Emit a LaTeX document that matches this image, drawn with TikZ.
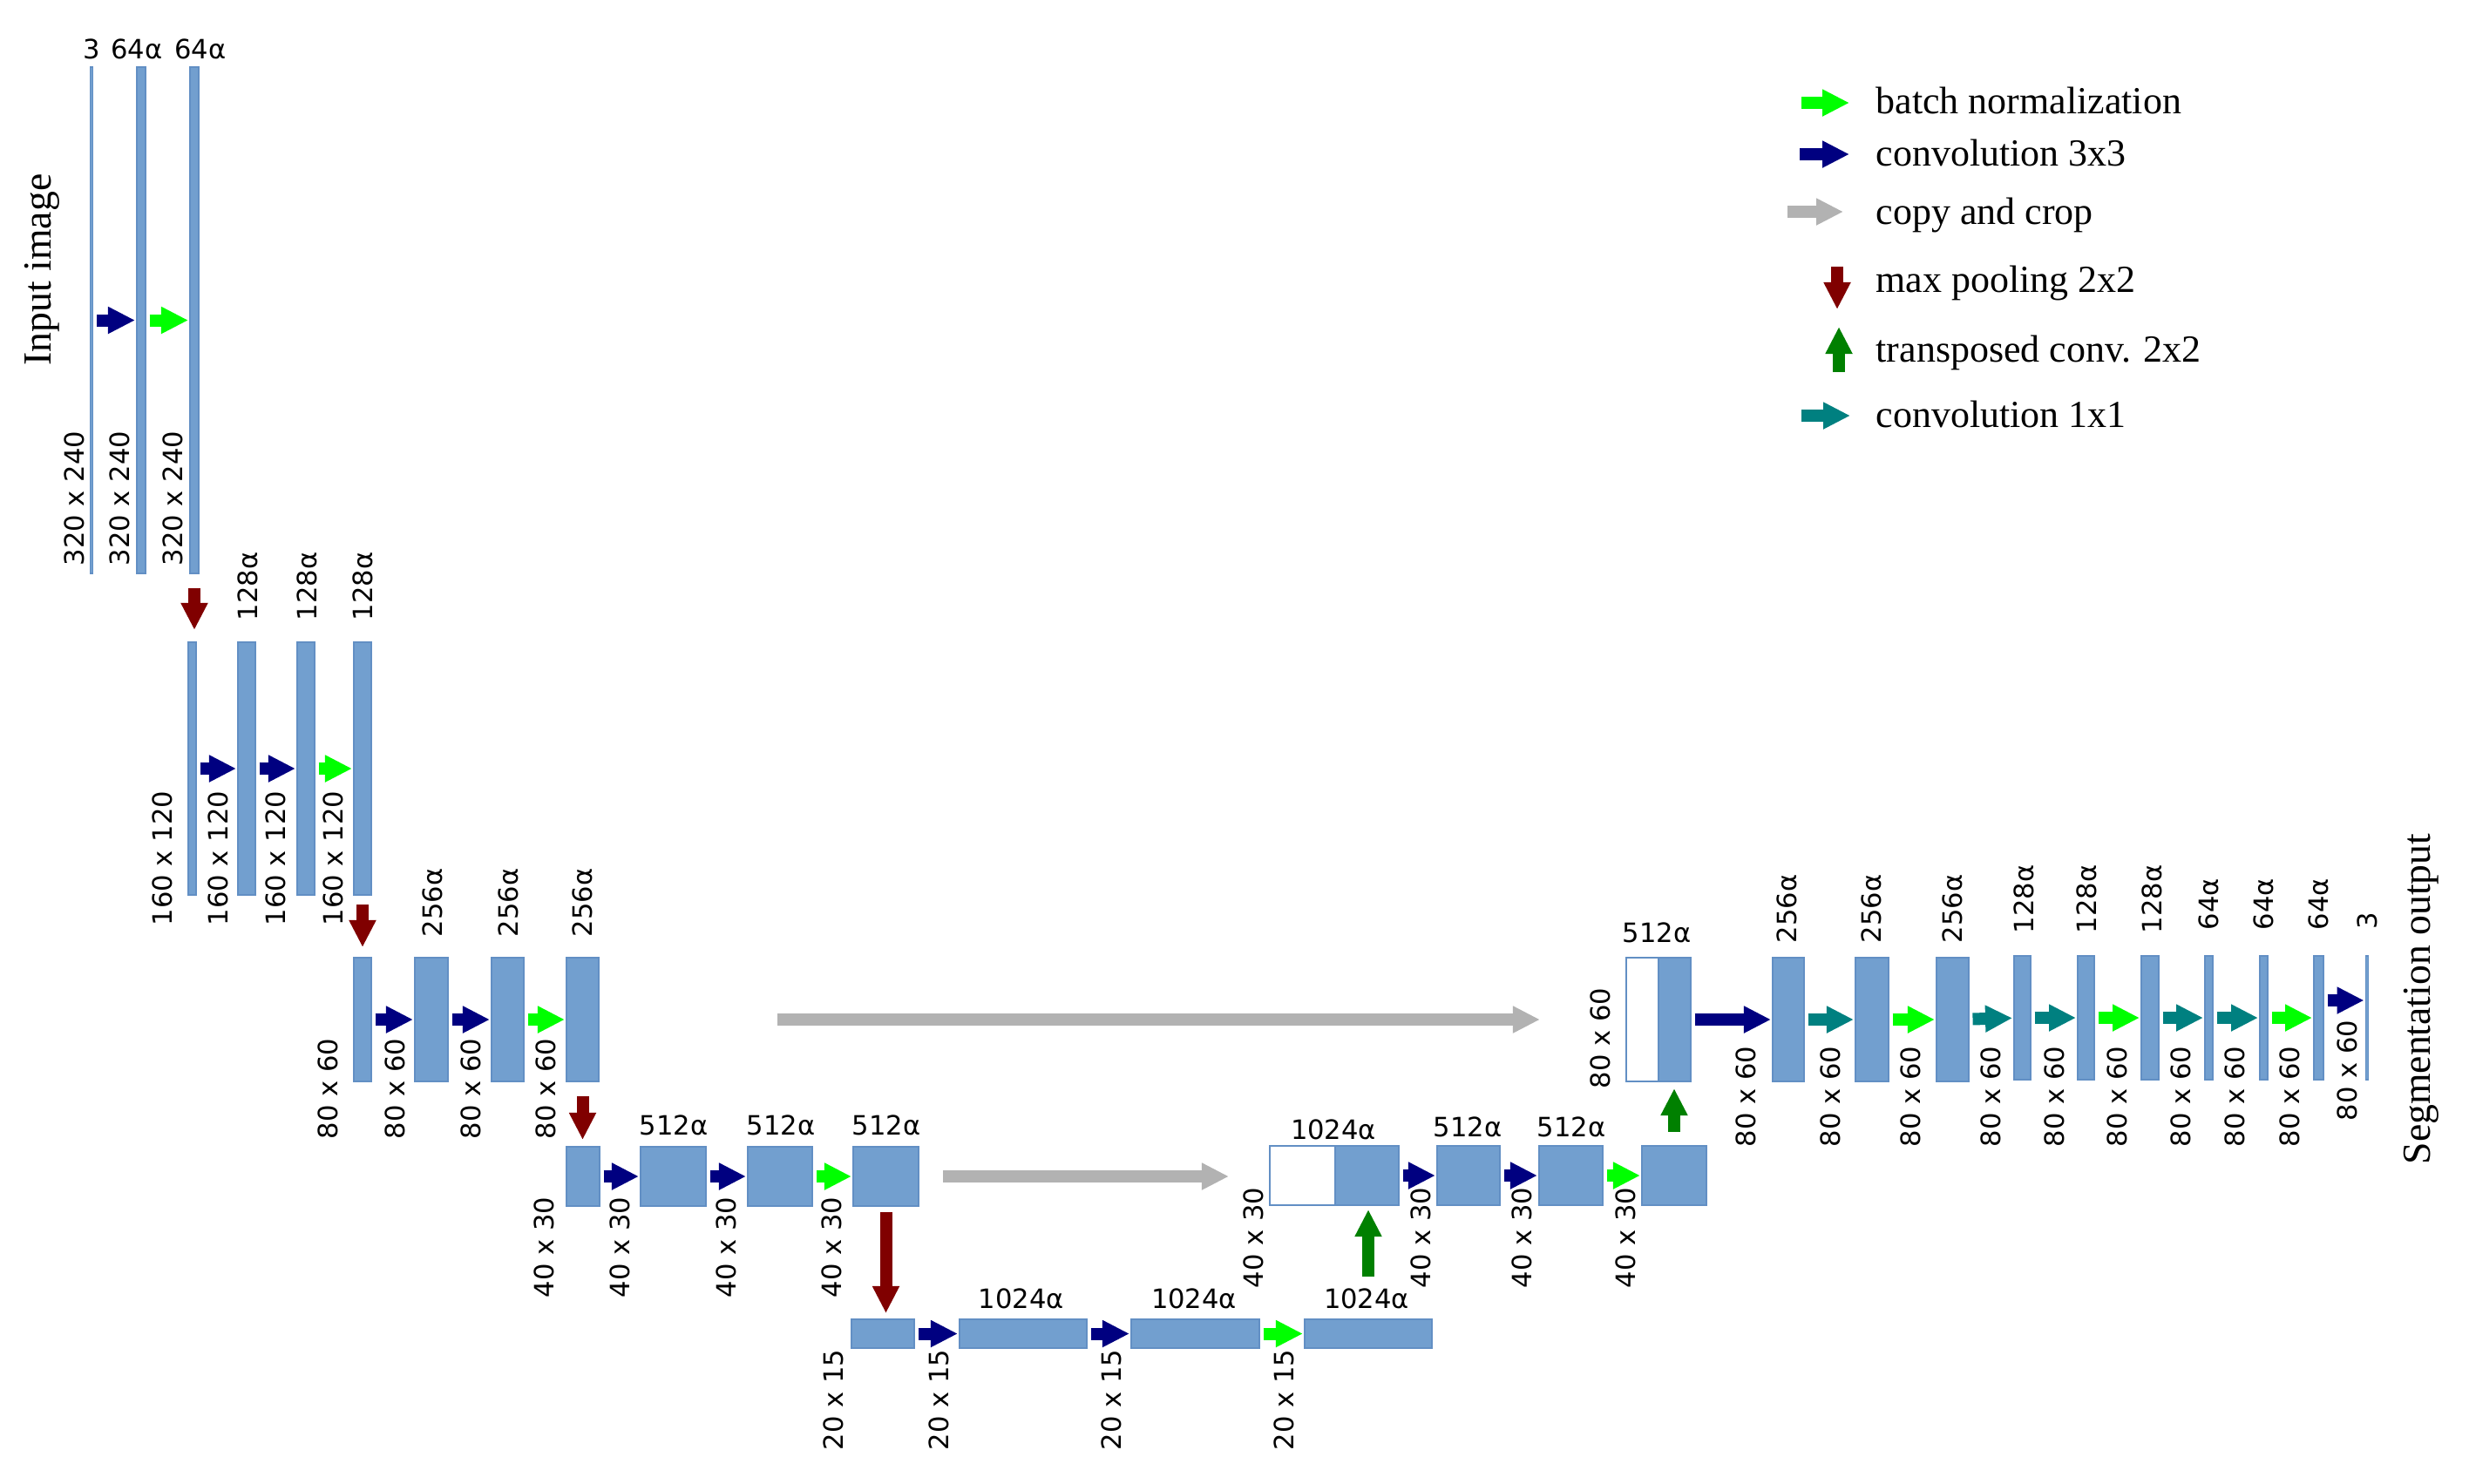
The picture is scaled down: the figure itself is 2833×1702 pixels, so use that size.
\documentclass[tikz,border=0pt]{standalone}
\usepackage{fontspec}
\setmainfont{Liberation Serif}
\newfontfamily\dimfont{DejaVu Sans}
\usetikzlibrary{arrows.meta}

\definecolor{barblue}{RGB}{114,159,207}
\definecolor{barline}{RGB}{98,143,196}
\definecolor{convblue}{RGB}{0,0,128}
\definecolor{bngreen}{RGB}{0,255,0}
\definecolor{copygray}{RGB}{178,178,178}
\definecolor{poolred}{RGB}{128,0,0}
\definecolor{upgreen}{RGB}{0,128,0}
\definecolor{convteal}{RGB}{0,128,128}

\begin{document}
\begin{tikzpicture}[
    x=0.01cm, y=-0.01cm,
    bar/.style={
        draw=barline,
        fill=barblue,
        line width=0.4pt,
        inner sep=0pt,
        outer sep=0pt
    },
    hole/.style={bar, fill=white},
    l1/.style={minimum height=5.81cm},
    l2/.style={minimum height=2.90cm},
    l3/.style={minimum height=1.42cm},
    l4/.style={minimum height=0.68cm},
    l5/.style={minimum height=0.33cm},
    arrow style/.style={
        line width=0.14cm,
        -{Triangle[length=0.31cm, width=0.29cm]}
    },
    tight/.style={shorten <=0.045cm, shorten >=0.02cm},
    conv/.style={arrow style, convblue},
    bn/.style={arrow style, bngreen},
    conv1/.style={arrow style, convteal},
    pool/.style={arrow style, poolred},
    upconv/.style={arrow style, upgreen},
    copyarrow/.style={arrow style, copygray},
    chan/.style={font=\dimfont\fontsize{8.7}{10}\selectfont, inner sep=0pt},
    chanup/.style={chan, rotate=90, anchor=west},
    dimlbl/.style={chanup},
    title/.style={font=\fontsize{13}{15}\selectfont, inner sep=0pt, rotate=90, anchor=base west},
    legend text/.style={font=\fontsize{12.5}{14}\selectfont, inner sep=0pt, anchor=base west}
]
\useasboundingbox (0,0) rectangle (2833,1702);

% Contracting path
\node[bar, l1, minimum width=0.03cm] (b10) at (105,367.5) {};
\node[bar, l1, minimum width=0.10cm] (b11) at (162,367.5) {};
\node[bar, l1, minimum width=0.10cm] (b12) at (223,367.5) {};

\node[bar, l2, minimum width=0.09cm] (b20) at (220.5,882) {};
\node[bar, l2, minimum width=0.20cm] (b21) at (283,882) {};
\node[bar, l2, minimum width=0.20cm] (b22) at (351,882) {};
\node[bar, l2, minimum width=0.20cm] (b23) at (416,882) {};

\node[bar, l3, minimum width=0.20cm] (b30) at (416,1170) {};
\node[bar, l3, minimum width=0.38cm] (b31) at (495,1170) {};
\node[bar, l3, minimum width=0.37cm] (b32) at (582.5,1170) {};
\node[bar, l3, minimum width=0.37cm] (b33) at (668.5,1170) {};

\node[bar, l4, minimum width=0.38cm] (b40) at (669,1350) {};
\node[bar, l4, minimum width=0.75cm] (b41) at (772.5,1350) {};
\node[bar, l4, minimum width=0.74cm] (b42) at (895,1350) {};
\node[bar, l4, minimum width=0.75cm] (b43) at (1016.5,1350) {};

% Bottleneck
\node[bar, l5, minimum width=0.72cm] (b50) at (1013,1530.5) {};
\node[bar, l5, minimum width=1.46cm] (b51) at (1174,1530.5) {};
\node[bar, l5, minimum width=1.47cm] (b52) at (1371.5,1530.5) {};
\node[bar, l5, minimum width=1.46cm] (b53) at (1570,1530.5) {};

% Expanding path
\node[hole, l4, minimum width=0.75cm] (u4w) at (1494.5,1349) {};
\node[bar, l4, minimum width=0.73cm] (u4b) at (1568.5,1349) {};
\node[bar, l4, minimum width=0.72cm] (u41) at (1685,1349) {};
\node[bar, l4, minimum width=0.73cm] (u42) at (1802.5,1349) {};
\node[bar, l4, minimum width=0.74cm] (u43) at (1921,1349) {};

\node[hole, l3, minimum width=0.37cm] (u3w) at (1884.5,1170) {};
\node[bar, l3, minimum width=0.37cm] (u3b) at (1921.5,1170) {};
\node[bar, l3, minimum width=0.36cm] (u31) at (2052,1170) {};
\node[bar, l3, minimum width=0.38cm] (u32) at (2148,1170) {};
\node[bar, l3, minimum width=0.37cm] (u33) at (2240.5,1170) {};
\node[bar, l3, minimum width=0.19cm] (u34) at (2320.5,1168) {};
\node[bar, l3, minimum width=0.19cm] (u35) at (2393.5,1168) {};
\node[bar, l3, minimum width=0.20cm] (u36) at (2467,1168) {};
\node[bar, l3, minimum width=0.09cm] (u37) at (2534.5,1168) {};
\node[bar, l3, minimum width=0.09cm] (u38) at (2597.5,1168) {};
\node[bar, l3, minimum width=0.11cm] (u39) at (2660.5,1168) {};
\node[bar, l3, minimum width=0.03cm] (out) at (2716,1168) {};

% Arrows between blocks
\begin{scope}[tight]
\draw[conv] (b10) -- (b11);
\draw[bn] (b11) -- (b12);

\draw[conv] (b20) -- (b21);
\draw[conv] (b21) -- (b22);
\draw[bn] (b22) -- (b23);

\draw[conv] (b30) -- (b31);
\draw[conv] (b31) -- (b32);
\draw[bn] (b32) -- (b33);

\draw[conv] (b40) -- (b41);
\draw[conv] (b41) -- (b42);
\draw[bn] (b42) -- (b43);

\draw[conv] (b50) -- (b51);
\draw[conv] (b51) -- (b52);
\draw[bn] (b52) -- (b53);

\draw[conv] (u4b) -- (u41);
\draw[conv] (u41) -- (u42);
\draw[bn] (u42) -- (u43);

\draw[conv] (u3b) -- (u31);
\draw[conv1] (u31) -- (u32);
\draw[bn] (u32) -- (u33);
\draw[conv1] (u33) -- (u34);
\draw[conv1] (u34) -- (u35);
\draw[bn] (u35) -- (u36);
\draw[conv1] (u36) -- (u37);
\draw[conv1] (u37) -- (u38);
\draw[bn] (u38) -- (u39);
\draw[conv] ([yshift=0.2cm]u39.east) -- ([yshift=0.2cm]out.west);
\end{scope}

% Pooling, up-convolution and skip connections
\draw[pool, shorten <=0.17cm, shorten >=0.14cm] (b12.south) -- (b12.south |- b20.north);
\draw[pool, shorten <=0.11cm, shorten >=0.12cm] (b23.south) -- (b30.north);
\draw[pool, shorten <=0.17cm, shorten >=0.08cm] (b33.south) -- (b33.south |- b40.north);
\draw[pool, shorten <=0.07cm, shorten >=0.07cm] (b43.south) -- (b43.south |- b50.north);
\draw[upconv, shorten <=0.49cm, shorten >=0.05cm] (b53.north) -- (b53.north |- u4b.south);
\draw[upconv, shorten <=0.16cm, shorten >=0.08cm] (u43.north) -- (u43.north |- u3b.south);
\draw[copyarrow, shorten <=2.05cm, shorten >=0.99cm] (b33) -- (u3w);
\draw[copyarrow, shorten <=0.28cm, shorten >=0.47cm] (b43.east) -- (b43.east -| u4w.west);

% Channel counts
\node[chan] (t10) at (105,56) {3};
\node[chan] (t11) at (157,56) {64α};
\node[chan] (t12) at (230,56) {64α};
\foreach \x [count=\i] in {284,352,416} \node[chanup] (t2\i) at (\x,713) {128α};
\foreach \x [count=\i] in {496,583,668} \node[chanup] (t3\i) at (\x,1076) {256α};
\foreach \x [count=\i] in {773,896,1017} \node[chan] (t4\i) at (\x,1291) {512α};
\foreach \x [count=\i] in {1172,1370,1568} \node[chan] (t5\i) at (\x,1490) {1024α};
\node[chan] (s40) at (1530,1296) {1024α};
\foreach \x [count=\i] in {1684,1803} \node[chan] (s4\i) at (\x,1293) {512α};
\node[chan] (s30) at (1901,1070) {512α};
\foreach \x [count=\i] in {2050,2147,2240} \node[chanup] (s3a\i) at (\x,1083) {256α};
\foreach \x [count=\i] in {2322,2394,2469} \node[chanup] (s3b\i) at (\x,1072) {128α};
\foreach \x [count=\i] in {2534,2597,2660} \node[chanup] (s3c\i) at (\x,1068) {64α};
\node[chanup] (s3d) at (2716,1067) {3};

% Feature map sizes
\foreach \x [count=\i] in {85,137,198} \node[dimlbl] (d1\i) at (\x,650) {320 x 240};
\foreach \x [count=\i] in {186,250,316,382} \node[dimlbl] (d2\i) at (\x,1063) {160 x 120};
\foreach \x [count=\i] in {376,453,540,626} \node[dimlbl] (d3\i) at (\x,1308) {80 x 60};
\foreach \x [count=\i] in {624.5,711,833,954} \node[dimlbl] (d4\i) at (\x,1490) {40 x 30};
\foreach \x [count=\i] in {956,1077,1275,1473} \node[dimlbl] (d5\i) at (\x,1665) {20 x 15};
\foreach \x [count=\i] in {1438,1630,1746,1865} \node[dimlbl] (e4\i) at (\x,1479) {40 x 30};
\node[dimlbl] (e30) at (1836,1250) {80 x 60};
\foreach \x [count=\i] in {2003,2100,2192,2284,2357,2429,2502,2564,2627} \node[dimlbl] (e3\i) at (\x,1317) {80 x 60};
\node[dimlbl] (e3x) at (2693,1287) {80 x 60};

% Input and output
\node[title] (inp) at (58,420) {Input image};
\node[title] (seg) at (2788,1337) {Segmentation output};

% Legend
\draw[bn] (2067,118) -- (2122,118);
\draw[conv] (2065,177) -- (2122,177);
\draw[copyarrow] (2051,243) -- (2115,243);
\draw[pool] (2108,306) -- (2108,355);
\draw[upconv] (2110,427) -- (2110,375);
\draw[conv1] (2067,477) -- (2123,477);
\node[legend text] (lg1) at (2152,130) {batch normalization};
\node[legend text] (lg2) at (2152,190) {convolution 3x3};
\node[legend text] (lg3) at (2152,257) {copy and crop};
\node[legend text] (lg4) at (2152,335) {max pooling 2x2};
\node[legend text] (lg5) at (2152,415) {transposed conv. 2x2};
\node[legend text] (lg6) at (2152,490) {convolution 1x1};

\end{tikzpicture}
\end{document}
